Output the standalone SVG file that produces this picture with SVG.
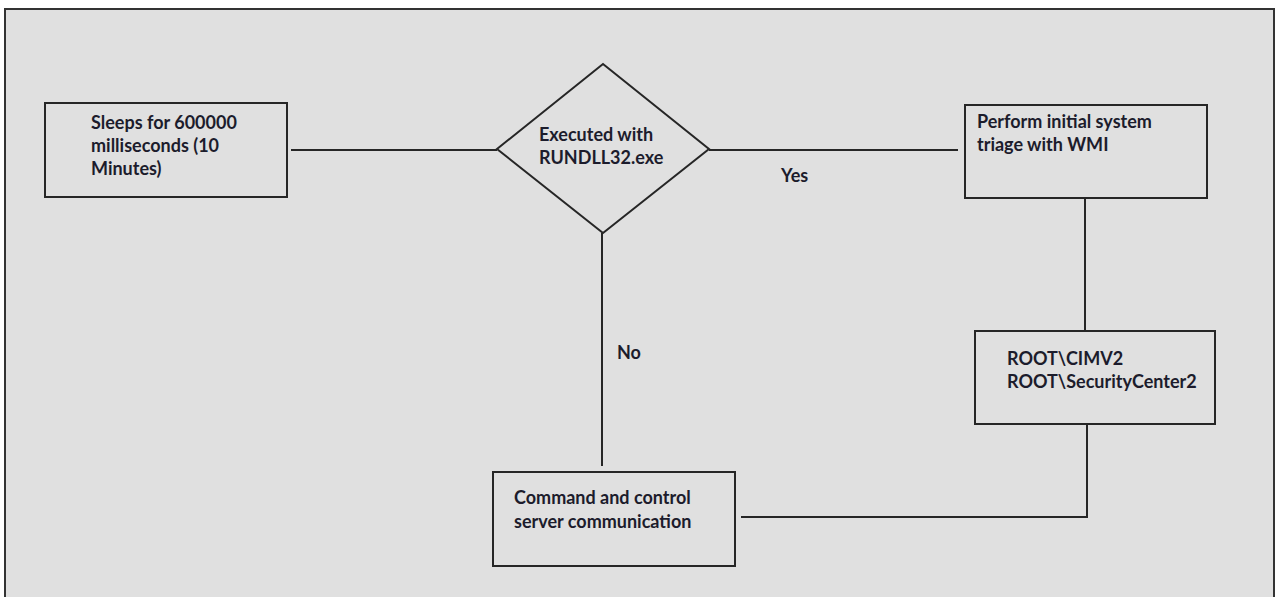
<svg xmlns="http://www.w3.org/2000/svg" width="1276" height="597" viewBox="0 0 1276 597">
<style>
.shape{fill:#e0e0e0;stroke:#262626;stroke-width:2}
.lbl{font-family:Lato,"Open Sans","Liberation Sans",sans-serif;font-weight:bold;font-size:18px;fill:#1c1c2c}
.conn{stroke:#262626;stroke-width:2;fill:none}
</style>
<rect x="0" y="0" width="1276" height="597" fill="#ffffff"/>
<rect x="5" y="9" width="1269" height="600" fill="#e0e0e0" stroke="#333" stroke-width="2"/>
<g id="connectors">
<line class="conn" x1="291" y1="150" x2="497" y2="150"/>
<line class="conn" x1="709" y1="150" x2="958" y2="150"/>
<line class="conn" x1="1085" y1="198" x2="1085" y2="331"/>
<polyline class="conn" points="1087,424 1087,517 741,517"/>
<line class="conn" x1="602" y1="233" x2="602" y2="466"/>
<text class="lbl" x="781" y="182">Yes</text>
<text class="lbl" x="617" y="359">No</text>
</g>
<g id="sleep">
<rect class="shape" x="45" y="103" width="242" height="94"/>
<text class="lbl" x="91" y="129">Sleeps for 600000</text>
<text class="lbl" x="91" y="152">milliseconds (10</text>
<text class="lbl" x="91" y="175">Minutes)</text>
</g>
<g id="decision">
<polygon class="shape" points="603,64 709,149 603,233 497,149"/>
<text class="lbl" x="539" y="141">Executed with</text>
<text class="lbl" x="539" y="164">RUNDLL32.exe</text>
</g>
<g id="triage">
<rect class="shape" x="965" y="105" width="242" height="93"/>
<text class="lbl" x="977" y="128">Perform initial system</text>
<text class="lbl" x="977" y="151">triage with WMI</text>
</g>
<g id="wmi">
<rect class="shape" x="975" y="331" width="240" height="93"/>
<text class="lbl" x="1007" y="365">ROOT\CIMV2</text>
<text class="lbl" x="1007" y="388">ROOT\SecurityCenter2</text>
</g>
<g id="c2">
<rect class="shape" x="493" y="472" width="242" height="94"/>
<text class="lbl" x="514" y="504">Command and control</text>
<text class="lbl" x="514" y="528">server communication</text>
</g>
</svg>
